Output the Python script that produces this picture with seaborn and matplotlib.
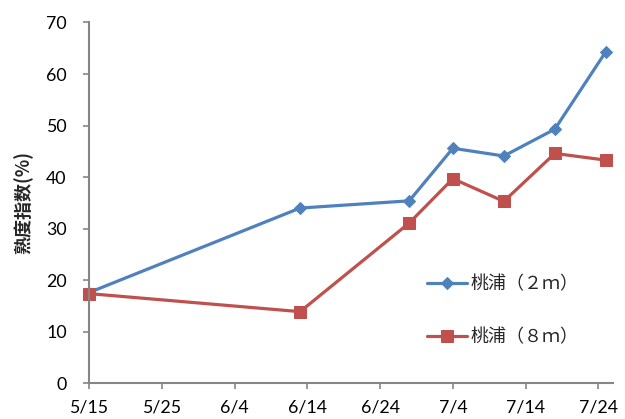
import seaborn as sns
from matplotlib import pyplot as plt
import pandas as pd

# values
dates = ["2014-05-15", "2014-06-13", "2014-06-28", "2014-07-04", "2014-07-11", "2014-07-18", "2014-07-25"]
taopu_2m = [17.6, 34.0, 35.4, 45.6, 44.1, 49.3, 64.3]
taopu_8m = [17.4, 13.9, 31.1, 39.7, 35.3, 44.6, 43.3]
tick_dates = ["2014-05-15", "2014-05-25", "2014-06-04", "2014-06-14", "2014-06-24",
              "2014-07-04", "2014-07-14", "2014-07-24"]
label_2m = "桃浦（２ｍ）"
label_8m = "桃浦（８ｍ）"

df = pd.DataFrame({"date": pd.to_datetime(dates), "v2": taopu_2m, "v8": taopu_8m})

sns.set_style("white")
plt.rcParams["font.family"] = ["Lato", "Noto Sans CJK SC", "DejaVu Sans"]

fig = plt.figure(figsize=(6.25, 4.19), dpi=100)
ax = fig.add_axes([89 / 625, 1 - 383.3 / 419, (613 - 89) / 625, (383.3 - 22.5) / 419])

sns.lineplot(x="date", y="v2", data=df, ax=ax, color="#4F81BD", marker="D",
             markersize=6.5, markeredgecolor="#4F81BD", linewidth=2.3, label=label_2m,
             clip_on=False)
sns.lineplot(x="date", y="v8", data=df, ax=ax, color="#C0504D", marker="s",
             markersize=9, markeredgecolor="#C0504D", linewidth=2.3, label=label_8m,
             clip_on=False)

ax.set_ylim(0, 70)
ax.set_yticks(range(0, 71, 10))
ax.set_xlim(pd.Timestamp("2014-05-15"), pd.Timestamp("2014-07-26"))
ticks = pd.to_datetime(tick_dates)
ax.set_xticks(ticks)
ax.set_xticklabels([f"{d.month}/{d.day}" for d in ticks])

for side in ["top", "right"]:
    ax.spines[side].set_visible(False)
for side in ["left", "bottom"]:
    ax.spines[side].set_color("#868686")
    ax.spines[side].set_linewidth(1.5)
ax.tick_params(axis="both", which="both", direction="out", length=4, width=1.2,
               color="#868686", labelsize=12.8, labelcolor="black")
ax.tick_params(axis="x", bottom=True, pad=8)
ax.tick_params(axis="y", left=True, pad=12)

ax.set_xlabel("")
ax.set_ylabel("熟度指数(%)", fontsize=13, fontweight="bold",
              family=["Noto Sans CJK SC", "DejaVu Sans"])
ax.yaxis.set_label_coords(-56 / 524, 0.5)

ax.legend(loc="upper left", bbox_to_anchor=(427 / 625, 1 - 275 / 419),
          bbox_transform=fig.transFigure, frameon=False, borderpad=0,
          borderaxespad=0, handlelength=2.2, handletextpad=0.2,
          labelspacing=1.95, prop={"family": ["Noto Sans CJK SC", "DejaVu Sans"], "size": 13})

plt.savefig("out.png", dpi=100)
